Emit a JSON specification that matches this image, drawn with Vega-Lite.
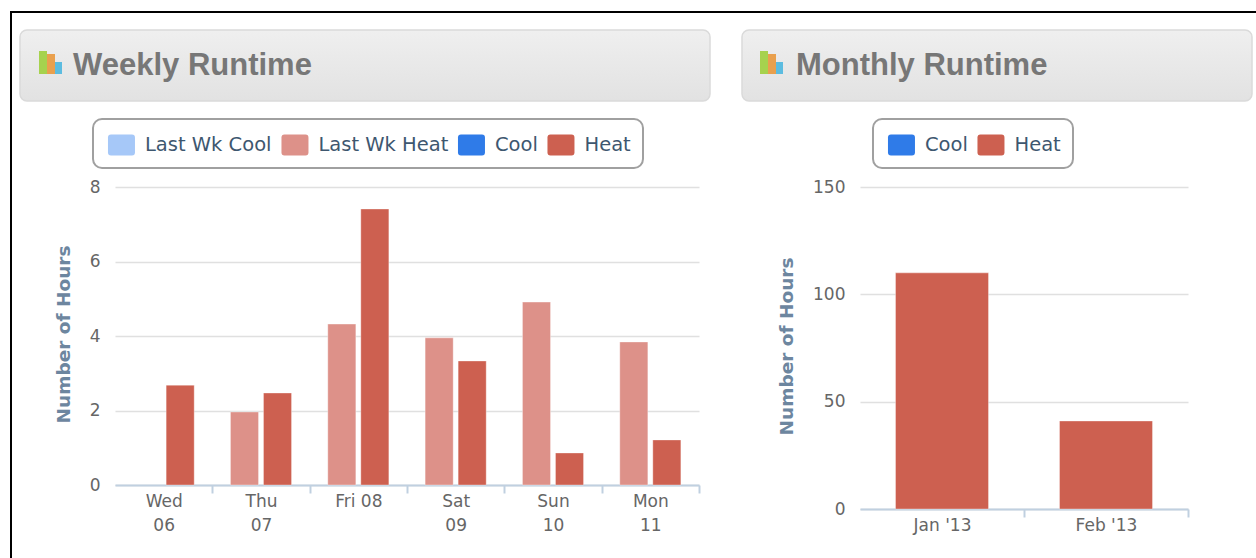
{
"$schema":"https://vega.github.io/schema/vega-lite/v6.json",
"padding":{"left":10,"top":11,"right":0,"bottom":0},
"background":"#ffffff",
"bounds":"flush",
"spacing":0,
"resolve":{"scale":{"color":"independent"},"legend":{"color":"independent"}},
"config":{"view":{"stroke":null},"font":"DejaVu Sans","concat":{"spacing":0},"legend":{"strokeWidth":2}},
"datasets":{
"none":[],
"weekly":[
{"day":"Wed 06","series":"Heat","hours":2.68},
{"day":"Thu 07","series":"Last Wk Heat","hours":1.96},
{"day":"Thu 07","series":"Heat","hours":2.47},
{"day":"Fri 08","series":"Last Wk Heat","hours":4.32},
{"day":"Fri 08","series":"Heat","hours":7.41},
{"day":"Sat 09","series":"Last Wk Heat","hours":3.95},
{"day":"Sat 09","series":"Heat","hours":3.33},
{"day":"Sun 10","series":"Last Wk Heat","hours":4.91},
{"day":"Sun 10","series":"Heat","hours":0.86},
{"day":"Mon 11","series":"Last Wk Heat","hours":3.84},
{"day":"Mon 11","series":"Heat","hours":1.21}],
"monthly":[
{"month":"Jan '13","series":"Heat","hours":110},
{"month":"Feb '13","series":"Heat","hours":41}],
"icon":[
{"part":"a","x0":0,"x1":8,"top":23,"bottom":0},
{"part":"b","x0":8,"x1":16,"top":20,"bottom":0},
{"part":"c","x0":16,"x1":23,"top":12,"bottom":0}]
},
"vconcat":[
{"width":1246,"height":2,"view":{"fill":"#000000","stroke":null},"data":{"name":"none"},"mark":{"type":"rule"},"encoding":{}},
{"bounds":"flush","spacing":8,"resolve":{"scale":{"color":"independent"},"legend":{"color":"independent"}},"hconcat":[
{"width":2,"height":545,"view":{"fill":"#000000","stroke":null},"data":{"name":"none"},"mark":{"type":"rule"},"encoding":{}},
{"spacing":30,"resolve":{"scale":{"color":"independent"},"legend":{"color":"independent"}},"hconcat":[
{"bounds":"flush","spacing":0,"resolve":{"scale":{"color":"independent"},"legend":{"color":"independent"}},"vconcat":[
{"width":690,"height":17,"data":{"name":"none"},"mark":{"type":"rule"},"encoding":{}},
{"width":690,"height":71,"view":{"stroke":"#DADADA","strokeWidth":1.5,"cornerRadius":7,"fill":{"gradient":"linear","x1":0,"y1":0,"x2":0,"y2":1,"stops":[{"offset":0,"color":"#EFEFEF"},{"offset":1,"color":"#E2E2E2"}]}},
 "layer":[
 {"data":{"name":"icon"},"mark":{"type":"rect"},"encoding":{
  "x":{"field":"x0","type":"quantitative","scale":{"domain":[-19,671],"nice":false,"zero":false},"axis":null},
  "x2":{"field":"x1"},
  "y":{"field":"top","type":"quantitative","scale":{"domain":[-27,44],"nice":false,"zero":false},"axis":null},
  "y2":{"field":"bottom"},
  "color":{"field":"part","type":"nominal","legend":null,"scale":{"domain":["a","b","c"],"range":["#A6D24E","#E9A04E","#5CBCE0"]}}}},
 {"data":{"values":[{"label":"Weekly Runtime","x":34,"y":8}]},"mark":{"type":"text","font":"Liberation Sans","fontWeight":"bold","fontSize":31,"color":"#777777","align":"left","baseline":"middle"},"encoding":{
  "x":{"field":"x","type":"quantitative"},"y":{"field":"y","type":"quantitative"},"text":{"field":"label"}}}
 ]},
{"width":690,"height":86,"data":{"name":"none"},"mark":{"type":"rule"},"encoding":{}},
{"bounds":"flush","spacing":0,"resolve":{"scale":{"color":"independent"},"legend":{"color":"independent"}},"hconcat":[
 {"width":95,"height":298,"data":{"name":"none"},"mark":{"type":"rule"},"encoding":{}},
 {"width":584,"height":298,"data":{"name":"weekly"},"mark":{"type":"bar","stroke":"#ffffff","strokeOpacity":0.35,"strokeWidth":1},"encoding":{
  "x":{"field":"day","type":"nominal","sort":["Wed 06","Thu 07","Fri 08","Sat 09","Sun 10","Mon 11"],"scale":{"paddingInner":0,"paddingOuter":0},"axis":{"title":null,"labelAngle":0,"labelFontSize":17,"labelColor":"#666666","labelLineHeight":24,"labelPadding":0,"labelBaseline":"top","domainColor":"#C0D0E0","domainWidth":2,"tickColor":"#C0D0E0","tickWidth":2,"tickSize":8,"tickBand":"extent","tickOpacity":{"condition":{"test":"!datum.value","value":0},"value":1},"grid":false,"labelExpr":"!datum.value?'':(datum.value=='Fri 08'?datum.value:split(datum.value,' '))"}},
  "xOffset":{"field":"series","type":"nominal","scale":{"domain":["Last Wk Heat","Heat"],"paddingInner":0.15,"paddingOuter":0.549}},
  "y":{"field":"hours","type":"quantitative","scale":{"domain":[0,8],"nice":false},"axis":{"title":"Number of Hours","titleFontSize":18.5,"titleFontWeight":"bold","titleColor":"#6D869F","titlePadding":16,"titleY":147,"values":[0,2,4,6,8],"labelFontSize":17,"labelColor":"#666666","labelPadding":15,"domain":false,"ticks":false,"tickSize":0,"grid":true,"gridColor":"#E0E0E0","gridWidth":1.5,"format":"d"}},
  "color":{"field":"series","type":"nominal","scale":{"domain":["Last Wk Cool","Last Wk Heat","Cool","Heat"],"range":["#A6C8F8","#DD9189","#2F7BE8","#CD6050"]},"legend":{"orient":"none","legendX":-22,"legendY":-68,"direction":"horizontal","columns":4,"title":null,"symbolType":"M-0.56,-0.78H1Q1.22,-0.78 1.22,-0.56V0.56Q1.22,0.78 1,0.78H-0.56Q-0.78,0.78 -0.78,0.56V-0.56Q-0.78,-0.78 -0.56,-0.78Z","symbolSize":729,"symbolStrokeWidth":0,"symbolOpacity":1,"labelFontSize":19.5,"labelColor":"#3E576F","labelOffset":13,"labelLimit":300,"columnPadding":6.5,"padding":12,"strokeColor":"#A0A0A0","cornerRadius":9,"fillColor":"#ffffff"}}
 }}
]}
]},
{"bounds":"flush","spacing":0,"resolve":{"scale":{"color":"independent"},"legend":{"color":"independent"}},"vconcat":[
{"width":510,"height":17,"data":{"name":"none"},"mark":{"type":"rule"},"encoding":{}},
{"width":510,"height":71,"view":{"stroke":"#DADADA","strokeWidth":1.5,"cornerRadius":7,"fill":{"gradient":"linear","x1":0,"y1":0,"x2":0,"y2":1,"stops":[{"offset":0,"color":"#EFEFEF"},{"offset":1,"color":"#E2E2E2"}]}},
 "layer":[
 {"data":{"name":"icon"},"mark":{"type":"rect"},"encoding":{
  "x":{"field":"x0","type":"quantitative","scale":{"domain":[-18,492],"nice":false,"zero":false},"axis":null},
  "x2":{"field":"x1"},
  "y":{"field":"top","type":"quantitative","scale":{"domain":[-27,44],"nice":false,"zero":false},"axis":null},
  "y2":{"field":"bottom"},
  "color":{"field":"part","type":"nominal","legend":null,"scale":{"domain":["a","b","c"],"range":["#A6D24E","#E9A04E","#5CBCE0"]}}}},
 {"data":{"values":[{"label":"Monthly Runtime","x":36,"y":8}]},"mark":{"type":"text","font":"Liberation Sans","fontWeight":"bold","fontSize":31,"color":"#777777","align":"left","baseline":"middle"},"encoding":{
  "x":{"field":"x","type":"quantitative"},"y":{"field":"y","type":"quantitative"},"text":{"field":"label"}}}
 ]},
{"width":510,"height":86,"data":{"name":"none"},"mark":{"type":"rule"},"encoding":{}},
{"bounds":"flush","spacing":0,"resolve":{"scale":{"color":"independent"},"legend":{"color":"independent"}},"hconcat":[
 {"width":118,"height":322,"data":{"name":"none"},"mark":{"type":"rule"},"encoding":{}},
 {"width":328,"height":322,"data":{"name":"monthly"},"mark":{"type":"bar","stroke":"#ffffff","strokeOpacity":0.35,"strokeWidth":1,"width":{"band":0.567}},"encoding":{
  "x":{"field":"month","type":"nominal","sort":["Jan '13","Feb '13"],"scale":{"paddingInner":0,"paddingOuter":0},"axis":{"title":null,"labelAngle":0,"labelFontSize":17,"labelColor":"#666666","labelPadding":0,"labelBaseline":"top","domainColor":"#C0D0E0","domainWidth":2,"tickColor":"#C0D0E0","tickWidth":2,"tickSize":8,"tickBand":"extent","tickOpacity":{"condition":{"test":"!datum.value","value":0},"value":1},"grid":false,"labelExpr":"datum.value?datum.value:''"}},
  "y":{"field":"hours","type":"quantitative","scale":{"domain":[0,150],"nice":false},"axis":{"title":"Number of Hours","titleFontSize":18.5,"titleFontWeight":"bold","titleColor":"#6D869F","titlePadding":16,"titleY":159,"values":[0,50,100,150],"labelFontSize":17,"labelColor":"#666666","labelPadding":15,"domain":false,"ticks":false,"tickSize":0,"grid":true,"gridColor":"#E0E0E0","gridWidth":1.5,"format":"d"}},
  "color":{"field":"series","type":"nominal","scale":{"domain":["Cool","Heat"],"range":["#2F7BE8","#CD6050"]},"legend":{"orient":"none","legendX":13,"legendY":-68,"direction":"horizontal","columns":2,"title":null,"symbolType":"M-0.56,-0.78H1Q1.22,-0.78 1.22,-0.56V0.56Q1.22,0.78 1,0.78H-0.56Q-0.78,0.78 -0.78,0.56V-0.56Q-0.78,-0.78 -0.56,-0.78Z","symbolSize":729,"symbolStrokeWidth":0,"symbolOpacity":1,"labelFontSize":19.5,"labelColor":"#3E576F","labelOffset":13,"labelLimit":300,"columnPadding":6.5,"padding":12,"strokeColor":"#A0A0A0","cornerRadius":9,"fillColor":"#ffffff"}}
 }}
]}
]}
]}
]}
]
}
